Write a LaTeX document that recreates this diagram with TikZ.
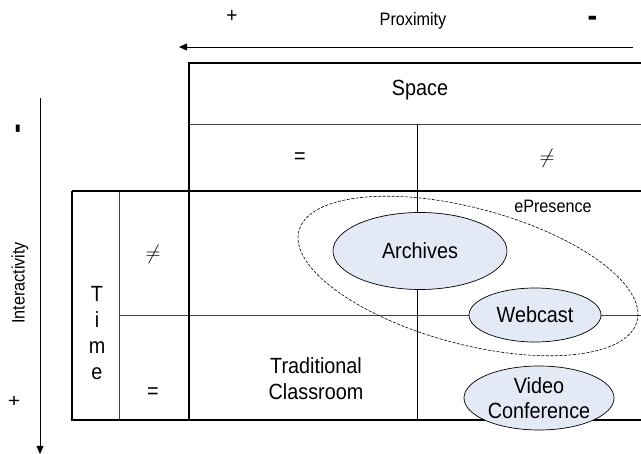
\documentclass[tikz,border=0pt]{standalone}
\usepackage{fontspec}
\setmainfont[FakeStretch=0.9]{Liberation Sans}
\usetikzlibrary{shapes.geometric,arrows.meta}
\definecolor{bubble}{HTML}{E4EAF5}
\begin{document}
\begin{tikzpicture}[x=1pt,y=-1pt,
  frame/.style={line width=1.6pt, black},
  rule/.style={line width=0.8pt, black!75},
  axis/.style={line width=0.8pt, -{Triangle[length=8pt,width=7pt]}},
  big/.style={font=\fontsize{22}{26}\selectfont, inner sep=0pt},
  small/.style={font=\fontsize{18}{21}\selectfont, inner sep=0pt},
  plussign/.style={font=\fontsize{21}{24}\selectfont, inner sep=0pt},
  minussign/.style={font=\fontsize{32}{36}\selectfont\bfseries, inner sep=0pt},
  bubblenode/.style={ellipse, draw, line width=0.7pt, fill=bubble, inner sep=0pt,
    align=center, font=\fontsize{22}{25}\selectfont},
]
\useasboundingbox (0,0) rectangle (641,454);

% axes
\coordinate (pxR) at (633,47);
\coordinate (pxL) at (179,47);
\draw[axis] (pxR) -- (pxL);
\coordinate (inT) at (40,98);
\coordinate (inB) at (40,454);
\draw[axis] (inT) -- (inB);

\node[plussign] (plusP) at (232,16) {+};
\node[small] (prox) at (413,21) {Proximity};
\node[minussign] (minusP) at (592.5,21.5) {-};

\node[small, rotate=90] (inter) at (20,283) {Interactivity};
\node[minussign, rotate=90] (minusI) at (21.5,129) {-};
\node[plussign, rotate=90] (plusI) at (15,401) {+};

% table rules
\draw[rule] (189,124) -- (641,124);
\draw[rule, black] (417,124) -- (417,420);
\draw[rule] (119,191) -- (119,420);
\draw[rule] (119,315) -- (641,315);

% table frame
\draw[frame] (641,63) -- (189,63) -- (189,420);
\draw[frame] (72,191) -- (641,191);
\draw[frame] (72,191) -- (72,420) -- (641,420);

% headings
\node[big] (space) at (420,90) {Space};
\node[big] (seq) at (300,158) {=};
\node[big] (sneq) at (547,158) {$\neq$};
\node[big, align=center, font=\fontsize{22}{26.3}\selectfont] (time) at (97,333) {T\\i\\m\\e};
\node[big] (tneq) at (153,254) {$\neq$};
\node[big] (teq) at (153,393) {=};

% cells
\node[big, align=center, font=\fontsize{22}{26}\selectfont] (trad) at (316,379) {Traditional\\Classroom};

\node[ellipse, draw, dashed, dash pattern=on 3pt off 1.5pt, line width=0.6pt,
  minimum width=350pt, minimum height=136pt, rotate=-15] (epres) at (468,276) {};
\node[small] (eplabel) at (553,206) {ePresence};

\node[bubblenode, minimum width=174pt, minimum height=77pt] (arch) at (420,251) {Archives};
\node[bubblenode, minimum width=132pt, minimum height=54pt] (web) at (535,315) {Webcast};
\node[bubblenode, minimum width=150pt, minimum height=64pt] (video) at (539,398) {Video\\Conference};
\end{tikzpicture}
\end{document}
